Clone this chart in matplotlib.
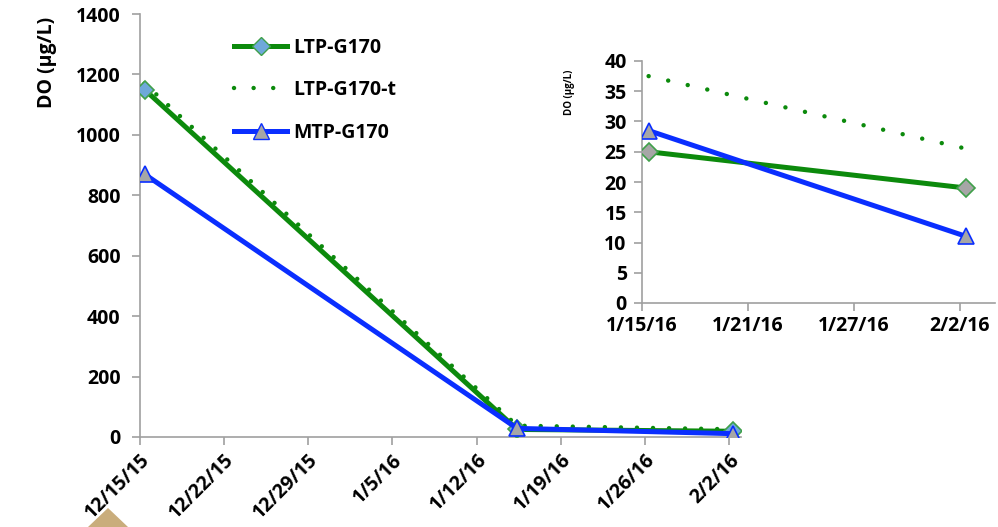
import datetime as dt
import matplotlib
matplotlib.use("Agg")
import matplotlib.pyplot as plt
import matplotlib.dates as mdates
from matplotlib.patches import Polygon
from matplotlib.lines import Line2D

plt.rcParams['font.family'] = ['Open Sans', 'DejaVu Sans']
plt.rcParams['font.weight'] = 'bold'

# Sampling dates and dissolved-oxygen readings (µg/L)
sample_dates = ['2015-12-15 09:00', '2016-01-15 09:00', '2016-02-02 09:00']
ltp_g170 = [1150, 25, 19]
ltp_g170_t = [1170, 37.5, 25.5]
mtp_g170 = [870, 28.5, 11]

main_ticks = ['2015-12-15', '2015-12-22', '2015-12-29', '2016-01-05',
              '2016-01-12', '2016-01-19', '2016-01-26', '2016-02-02']
inset_ticks = ['2016-01-15', '2016-01-21', '2016-01-27', '2016-02-02']
main_yticks = [0, 200, 400, 600, 800, 1000, 1200, 1400]
inset_yticks = [0, 5, 10, 15, 20, 25, 30, 35, 40]

GREEN = '#0C8A0C'
BLUE = '#0A2EFF'
GRAY = '#A6A6A6'
AXIS = '#A0A0A0'

to_dt = lambda s: dt.datetime.fromisoformat(s)
x = [to_dt(s) for s in sample_dates]


def date_label(v, pos=None):
    d = mdates.num2date(v)
    return f"{d.month}/{d.day}/{d:%y}"


def style_axes(ax, ypad):
    for side in ('top', 'right'):
        ax.spines[side].set_visible(False)
    for side in ('left', 'bottom'):
        ax.spines[side].set_color(AXIS)
        ax.spines[side].set_linewidth(1.2)
    ax.tick_params(axis='both', colors=AXIS, width=1.2, length=6,
                   direction='out', labelcolor='black', labelsize=14)
    ax.tick_params(axis='y', pad=ypad)
    ax.xaxis.set_major_formatter(date_label)


fig = plt.figure(figsize=(9.98, 5.27), dpi=100)

# decorative corner shape
fig.patches.append(Polygon([(88 / 998, 0), (108 / 998, 19 / 527), (128 / 998, 0)],
                           closed=True, transform=fig.transFigure,
                           facecolor='#C9AD7C', edgecolor='none', zorder=-1))

# ---- main chart ----
ax = fig.add_axes([140 / 998, 90 / 527, 601 / 998, 423 / 527])
style_axes(ax, ypad=8)
ax.plot(x, ltp_g170_t, color=GREEN, lw=3.2, linestyle=(0, (0.01, 3.6)),
        dash_capstyle='round', zorder=3)
ax.plot(x, ltp_g170, color=GREEN, lw=3.6, marker='D', markersize=9,
        markerfacecolor='#6EA8DA', markeredgecolor='#3FA04A',
        markeredgewidth=1.2, zorder=4)
ax.plot(x, mtp_g170, color=BLUE, lw=3.6, marker='^', markersize=11,
        markerfacecolor=GRAY, markeredgecolor=BLUE, markeredgewidth=1.2, zorder=5)
ax.set_xlim(to_dt('2015-12-15'), to_dt('2016-02-03'))
ax.set_ylim(0, 1400)
ax.set_xticks([to_dt(s) for s in main_ticks])
ax.set_yticks(main_yticks)
for lbl in ax.get_xticklabels():
    lbl.set_rotation(45)
    lbl.set_ha('right')
    lbl.set_va('top')
    lbl.set_rotation_mode('anchor')
ax.set_ylabel('DO (µg/L)', fontsize=14, fontweight='bold')
ax.yaxis.set_label_coords(-0.138, 0.885)

handles = [
    Line2D([], [], color=GREEN, lw=3.6, marker='D', markersize=9,
           markerfacecolor='#6EA8DA', markeredgecolor='#3FA04A'),
    Line2D([], [], color=GREEN, lw=3.2, linestyle=(0, (0.01, 4.4)),
           dash_capstyle='round'),
    Line2D([], [], color=BLUE, lw=3.6, marker='^', markersize=11,
           markerfacecolor=GRAY, markeredgecolor=BLUE),
]
ax.legend(handles, ['LTP-G170', 'LTP-G170-t', 'MTP-G170'],
          loc='upper left', bbox_to_anchor=(0.128, 0.985), frameon=False,
          handlelength=2.7, handletextpad=0.3, labelspacing=1.15,
          prop={'weight': 'bold', 'size': 14})

# ---- inset chart ----
ins = fig.add_axes([642 / 998, 224 / 527, 353 / 998, 242 / 527])
style_axes(ins, ypad=5)
ins.plot(x[1:], ltp_g170_t[1:], color=GREEN, lw=3.2, linestyle=(0, (0.01, 4.5)),
         dash_capstyle='round', zorder=3)
ins.plot(x[1:], ltp_g170[1:], color=GREEN, lw=3.6, marker='D', markersize=9,
         markerfacecolor=GRAY, markeredgecolor='#3FA04A', markeredgewidth=1.2,
         zorder=4)
ins.plot(x[1:], mtp_g170[1:], color=BLUE, lw=3.6, marker='^', markersize=11,
         markerfacecolor=GRAY, markeredgecolor=BLUE, markeredgewidth=1.2, zorder=5)
ins.set_xlim(to_dt('2016-01-15'), to_dt('2016-02-04'))
ins.set_ylim(0, 40)
ins.set_xticks([to_dt(s) for s in inset_ticks])
ins.set_yticks(inset_yticks)
ins.set_ylabel('DO (µg/L)', fontsize=7, fontweight='bold')
ins.yaxis.set_label_coords(-0.19, 0.87)

fig.savefig('out.png', dpi=100)
